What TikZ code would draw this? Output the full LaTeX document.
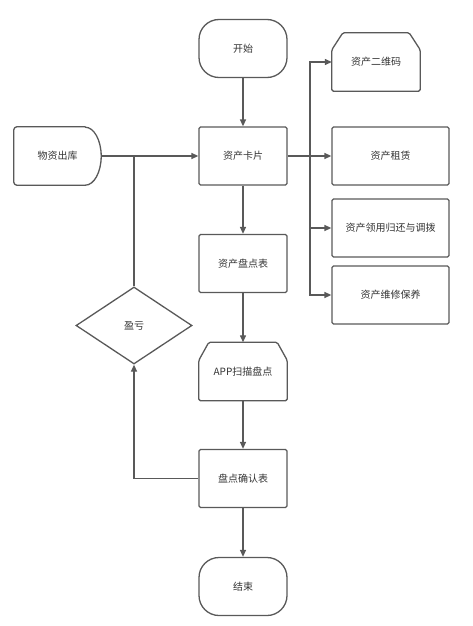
\documentclass[tikz,border=0pt]{standalone}
\usepackage{fontspec}
\setmainfont{Noto Sans CJK SC}
\usetikzlibrary{arrows.meta,shapes.geometric}
\definecolor{ln}{HTML}{595959}
\definecolor{tx}{HTML}{333333}
\tikzset{
  lbl/.style={font=\fontsize{10pt}{12pt}\selectfont, text=tx, inner sep=0pt},
  boxn/.style={lbl, draw=ln, line width=1.3pt, rounded corners=1.5pt, minimum width=88pt, minimum height=58pt},
  widebox/.style={boxn, minimum width=117pt},
  termn/.style={boxn, rounded corners=20pt},
  ghost/.style={lbl, minimum width=88pt, minimum height=58pt},
  decn/.style={lbl, draw=ln, line width=1.3pt, shape=diamond, minimum width=116pt, minimum height=77pt},
  outl/.style={draw=ln, line width=1.3pt, line join=round},
  conn/.style={draw=ln, line width=1.3pt},
  arr/.style={conn, -{Triangle[length=7pt,width=6pt]}}
}
\begin{document}
\begin{tikzpicture}[x=1pt,y=-1pt]
\useasboundingbox (0,0) rectangle (473,626);
% nodes
\node[termn] (start) at (243,48.5) {开始};
\node[boxn] (card) at (243,156) {资产卡片};
\node[ghost, minimum width=87pt] (out) at (57.5,156) {物资出库};
\node[ghost] (qr) at (376,62) {资产二维码};
\node[widebox] (rent) at (390.5,156) {资产租赁};
\node[widebox] (lend) at (390.5,228) {资产领用归还与调拨};
\node[widebox] (maint) at (390.5,295) {资产维修保养};
\node[boxn] (inv) at (243,263.5) {资产盘点表};
\node[decn] (yk) at (134,325.5) {盈亏};
\node[ghost] (app) at (243,371.5) {APP扫描盘点};
\node[boxn] (conf) at (243,478.5) {盘点确认表};
\node[termn] (end) at (243,586.5) {结束};
% custom outlines
\draw[outl, rounded corners=1.5pt] ([xshift=11pt]qr.north west) -- ([xshift=-11pt]qr.north east) -- ([yshift=-17pt]qr.north east) -- (qr.south east) -- (qr.south west) -- ([yshift=-17pt]qr.north west) -- cycle;
\draw[outl, rounded corners=1.5pt] ([xshift=10pt]app.north west) -- ([xshift=-10pt]app.north east) -- ([yshift=-18pt]app.north east) -- (app.south east) -- (app.south west) -- ([yshift=-18pt]app.north west) -- cycle;
\draw[outl] ([xshift=-16pt]out.north east) -- ([xshift=3pt]out.north west)
  arc[start angle=90,end angle=180,radius=3pt] -- ([yshift=3pt]out.south west)
  arc[start angle=180,end angle=270,radius=3pt] -- ([xshift=-16pt]out.south east)
  arc[start angle=-90,end angle=90,x radius=16pt,y radius=29pt] -- cycle;
% connectors
\coordinate (br) at (310,156);
\draw[arr] (start) -- (card);
\draw[arr] (out.east) -- (card.west);
\draw[conn] (yk.north) -- (yk.north |- card.west);
\draw[conn] (card.east) -- (br);
\draw[arr] (br) |- (qr.west);
\draw[arr] (br) -- (rent.west);
\draw[arr] (br) |- (lend.west);
\draw[arr] (br) |- (maint.west);
\draw[arr] (card) -- (inv);
\draw[arr] (inv) -- (app);
\draw[arr] (app) -- (conf);
\draw[arr] (conf.west) -| (yk.south);
\draw[arr] (conf) -- (end);
\end{tikzpicture}
\end{document}
